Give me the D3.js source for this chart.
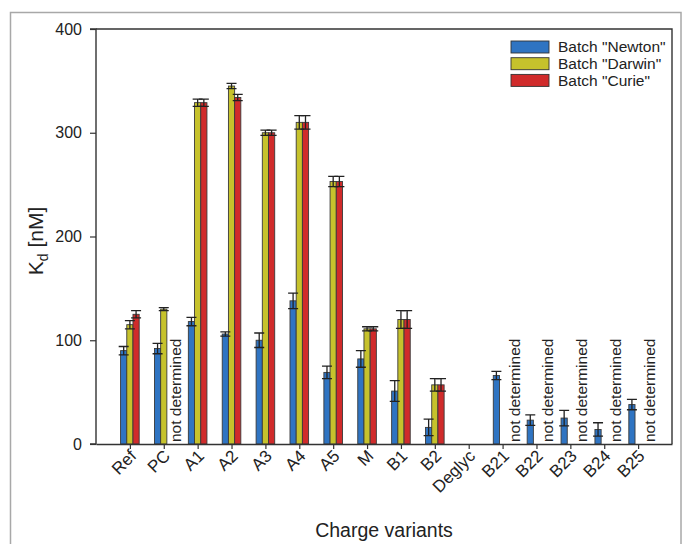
<!DOCTYPE html>
<html>
<head>
<meta charset="utf-8">
<script src="https://cdn.jsdelivr.net/npm/d3@7/dist/d3.min.js"></script>
<style>
  html, body { margin: 0; padding: 0; background: #fff; }
  svg { display: block; font-family: "Liberation Sans", Arial, sans-serif; }
</style>
</head>
<body>
<svg id="chart" width="684" height="544"></svg>
<script>
// Dissociation constants per charge variant and batch
const categories = ["Ref", "PC", "A1", "A2", "A3", "A4", "A5", "M", "B1", "B2", "Deglyc", "B21", "B22", "B23", "B24", "B25"];
const newton    = [90, 92, 118, 106, 100, 138, 69, 82, 51, 16, null, 66, 23, 25, 14, 38];
const newtonErr = [4, 5, 4, 2, 7, 7.5, 6, 8, 10, 8, null, 4, 5, 7.5, 6.5, 5];
const darwin    = [115, 130, 329, 345, 300, 310, 253, 111, 120, 57, null, null, null, null, null, null];
const darwinErr = [4, 1.5, 3.5, 2.5, 2.5, 6.5, 5, 2, 8.5, 6, null, null, null, null, null, null];
const curie     = [125, null, 329, 334, 300, 310, 253, 111, 120, 57, null, null, null, null, null, null];
const curieErr  = [3.5, null, 3.5, 3, 2.5, 6.5, 5, 2, 8.5, 6, null, null, null, null, null, null];
const seriesNames = ['Batch "Newton"', 'Batch "Darwin"', 'Batch "Curie"'];
const notDetermined = ["PC", "B21", "B22", "B23", "B24", "B25"];
const yTicks = [0, 100, 200, 300, 400];

const colors = ["#2f74c2", "#c6c22c", "#d02b2b"];
const series = [
  { name: seriesNames[0], values: newton, errors: newtonErr, color: colors[0] },
  { name: seriesNames[1], values: darwin, errors: darwinErr, color: colors[1] },
  { name: seriesNames[2], values: curie,  errors: curieErr,  color: colors[2] }
];

const svg = d3.select("#chart");
const plot = { left: 96, right: 672, top: 29, bottom: 444 };

// Outer figure frame
svg.append("rect")
  .attr("x", 10.5).attr("y", 12.5)
  .attr("width", 670.5).attr("height", 560)
  .attr("fill", "none").attr("stroke", "#a8a8a8").attr("stroke-width", 1.5);

const x = d3.scalePoint().domain(categories).range([plot.left, plot.right]).padding(1);
const y = d3.scaleLinear().domain([0, 400]).range([plot.bottom, plot.top]);
const barW = 6.2;
const offsets = [-barW, 0, barW];

// Plot box (top and right edges)
svg.append("path")
  .attr("d", `M${plot.left},${plot.top}H${plot.right}V${plot.bottom}`)
  .attr("fill", "none").attr("stroke", "#333").attr("stroke-width", 1.4);

// Bars
series.forEach((s, si) => {
  const data = categories.map((c, i) => ({ c, v: s.values[i], e: s.errors[i] })).filter(d => d.v != null);
  svg.append("g").selectAll("rect").data(data).join("rect")
    .attr("x", d => x(d.c) + offsets[si] - barW / 2)
    .attr("y", d => y(d.v))
    .attr("width", barW)
    .attr("height", d => y(0) - y(d.v))
    .attr("fill", s.color)
    .attr("stroke", "#3a3a3a").attr("stroke-width", 0.9);
});

// Error bars
const capW = 10;
series.forEach((s, si) => {
  const data = categories.map((c, i) => ({ c, v: s.values[i], e: s.errors[i] })).filter(d => d.v != null && d.e != null);
  const g = svg.append("g").attr("stroke", "#222").attr("stroke-width", 1.3).attr("fill", "none");
  g.selectAll("path").data(data).join("path")
    .attr("d", d => {
      const cx = x(d.c) + offsets[si];
      const y1 = y(d.v + d.e), y2 = y(d.v - d.e);
      return `M${cx - capW / 2},${y1}H${cx + capW / 2}M${cx},${y1}V${y2}M${cx - capW / 2},${y2}H${cx + capW / 2}`;
    });
});

// "not determined" annotations
svg.append("g").selectAll("text").data(notDetermined).join("text")
  .attr("transform", d => `translate(${x(d) + 11.5},442) rotate(-90)`)
  .attr("dy", "0.35em")
  .attr("font-size", 15.5)
  .attr("fill", "#222")
  .text("not determined");

// Y axis
const yAxis = d3.axisLeft(y).tickValues(yTicks).tickSize(6).tickPadding(8);
const gy = svg.append("g").attr("transform", `translate(${plot.left},0)`).call(yAxis);
gy.select(".domain").attr("stroke", "#333").attr("stroke-width", 1.4).attr("d", `M-6,${plot.top}H0V${plot.bottom}H-6`);
gy.selectAll(".tick line").attr("stroke", "#333").attr("stroke-width", 1.2);
gy.selectAll(".tick text").attr("font-size", 16).attr("fill", "#222").attr("font-family", '"Liberation Sans", Arial, sans-serif');

// X axis
const xAxis = d3.axisBottom(x).tickSize(5).tickSizeOuter(0);
const gx = svg.append("g").attr("transform", `translate(0,${plot.bottom})`).call(xAxis);
gx.select(".domain").attr("stroke", "#333").attr("stroke-width", 1.4);
gx.selectAll(".tick line").attr("stroke", "#333").attr("stroke-width", 1.2);
gx.selectAll(".tick text")
  .attr("font-size", 17).attr("fill", "#222").attr("font-family", '"Liberation Sans", Arial, sans-serif')
  .attr("text-anchor", "end")
  .attr("dy", null).attr("y", null)
  .attr("transform", "translate(7,13) rotate(-45)");

// Axis titles
const yt = svg.append("text")
  .attr("transform", `translate(43,241) rotate(-90)`)
  .attr("text-anchor", "middle")
  .attr("font-size", 21).attr("fill", "#222");
yt.append("tspan").text("K");
yt.append("tspan").attr("font-size", 14).attr("dy", 5).text("d");
yt.append("tspan").attr("dy", -5).text(" [nM]");

svg.append("text")
  .attr("x", (plot.left + plot.right) / 2).attr("y", 537)
  .attr("text-anchor", "middle")
  .attr("font-size", 19.5).attr("fill", "#222")
  .text("Charge variants");

// Legend
const legend = svg.append("g").attr("transform", "translate(511,41)");
series.forEach((s, i) => {
  const row = legend.append("g").attr("transform", `translate(0,${i * 16.7})`);
  row.append("rect").attr("width", 38).attr("height", 12)
    .attr("fill", s.color).attr("stroke", "#333").attr("stroke-width", 0.9);
  row.append("text").attr("x", 47).attr("y", 6).attr("dy", "0.35em")
    .attr("font-size", 15.5).attr("fill", "#222").text(s.name);
});
</script>
</body>
</html>
